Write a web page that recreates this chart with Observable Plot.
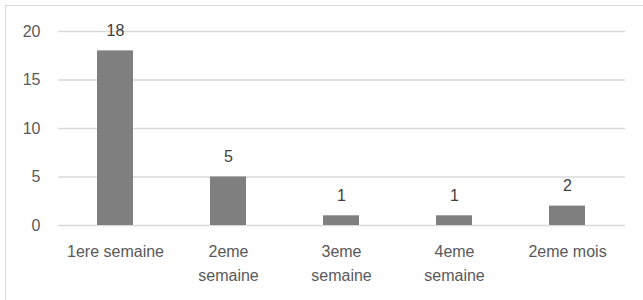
<!DOCTYPE html>
<html>
<head>
<meta charset="utf-8">
<script src="https://cdn.jsdelivr.net/npm/d3@7"></script>
<script src="https://cdn.jsdelivr.net/npm/@observablehq/plot@0.6"></script>
<style>
  html, body { margin: 0; padding: 0; background: #fff; overflow: hidden; }
  #wrap { position: relative; width: 643px; height: 300px; overflow: hidden; }
  #frame { position: absolute; left: 5px; top: 5px; width: 700px; height: 400px;
           border-top: 1.5px solid #d9d9d9; border-left: 1.5px solid #d9d9d9; box-sizing: border-box; }
  #chart { position: absolute; left: 0; top: 0; }
</style>
</head>
<body>
<div id="wrap"><div id="frame"></div><div id="chart"></div></div>
<script>
const categories = ["1ere semaine", "2eme\nsemaine", "3eme\nsemaine", "4eme\nsemaine", "2eme mois"];
const values = [18, 5, 1, 1, 2];
const yTicks = [0, 5, 10, 15, 20];

const data = categories.map((c, i) => ({category: c, value: values[i]}));
const font = "'Liberation Sans', Arial, sans-serif";

const chart = Plot.plot({
  width: 643,
  height: 300,
  marginLeft: 58,
  marginRight: 18,
  marginTop: 31,
  marginBottom: 75,
  style: {fontFamily: font, fontSize: "16px", color: "#595959", background: "transparent"},
  x: {domain: categories, paddingInner: 0.68, paddingOuter: 0.34, label: null},
  y: {domain: [0, 20], label: null},
  marks: [
    Plot.ruleY(yTicks, {stroke: "#d9d9d9", strokeWidth: 1.5}),
    Plot.axisY(yTicks, {tickSize: 0, tickPadding: 18, fontSize: 16, fill: "#595959", label: null}),
    Plot.axisX({tickSize: 0, tickPadding: 14, fontSize: 16, lineHeight: 1.5, fill: "#595959", label: null}),
    Plot.barY(data, {x: "category", y: "value", fill: "#7f7f7f"}),
    Plot.text(data, {x: "category", y: "value", text: d => String(d.value), dy: -20, fontSize: 16, fill: "#404040"})
  ]
});
document.getElementById("chart").appendChild(chart);
</script>
</body>
</html>
